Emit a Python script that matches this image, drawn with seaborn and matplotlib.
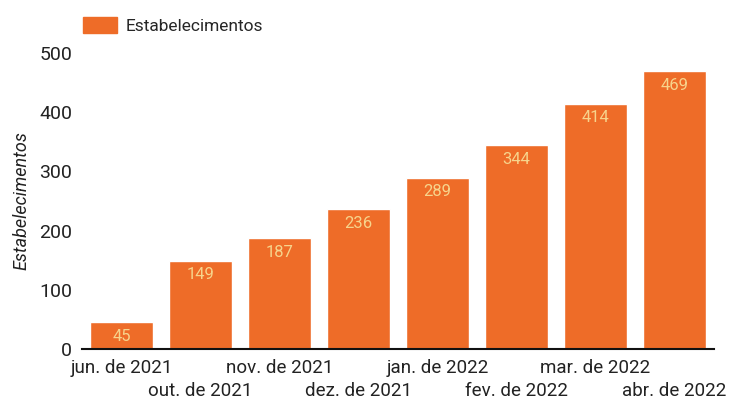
import matplotlib
matplotlib.use("Agg")
import matplotlib.pyplot as plt
import seaborn as sns
import pandas as pd
from matplotlib.patches import Patch

months = ["jun. de 2021", "out. de 2021", "nov. de 2021", "dez. de 2021",
          "jan. de 2022", "fev. de 2022", "mar. de 2022", "abr. de 2022"]
values = [45, 149, 187, 236, 289, 344, 414, 469]
yticks = [0, 100, 200, 300, 400, 500]
series_name = "Estabelecimentos"

sns.set_theme(style="white")
plt.rcParams['font.family'] = ['Roboto', 'DejaVu Sans']

BAR = "#EE6C28"
LBL = "#F7D48C"

df = pd.DataFrame({"mes": months, "valor": values})

fig = plt.figure(figsize=(7.30, 4.03), dpi=100)
ax = fig.add_axes([0.1123, 0.134, 0.8657, 0.7345])
sns.barplot(data=df, x="mes", y="valor", color=BAR, saturation=1, width=0.8, ax=ax)

ax.set_ylim(0, 500)
ax.set_yticks(yticks)
ax.set_yticklabels([str(t) for t in yticks], fontsize=14, color="#222222")
ax.set_xlim(-0.5, len(months) - 0.5)
ax.set_xticks(range(len(months)))
ax.set_xticklabels(months, fontsize=13.5, color="#222222")
ax.tick_params(axis="both", length=0)
ax.tick_params(axis="y", pad=7)
for i, t in enumerate(ax.xaxis.get_major_ticks()):
    t.set_pad(7 if i % 2 == 0 else 24)
ax.set_xlabel("")
ax.set_ylabel(series_name, fontsize=13, style="italic", color="#222222", labelpad=6)

for s in ["top", "right", "left"]:
    ax.spines[s].set_visible(False)
ax.spines["bottom"].set_color("#111111")
ax.spines["bottom"].set_linewidth(1.5)

for p, v in zip(ax.patches, values):
    ax.annotate(str(v), (p.get_x() + p.get_width() / 2, p.get_height()),
                xytext=(0, -10), textcoords="offset points", ha="center", va="center",
                fontsize=12, color=LBL)

ax.legend(handles=[Patch(color=BAR, label=series_name)], loc="lower left",
          bbox_to_anchor=(-0.01, 1.04), frameon=False, fontsize=12.5,
          handlelength=2.0, handleheight=1.0, handletextpad=0.45, borderaxespad=0)

fig.savefig("out.png", dpi=100)
